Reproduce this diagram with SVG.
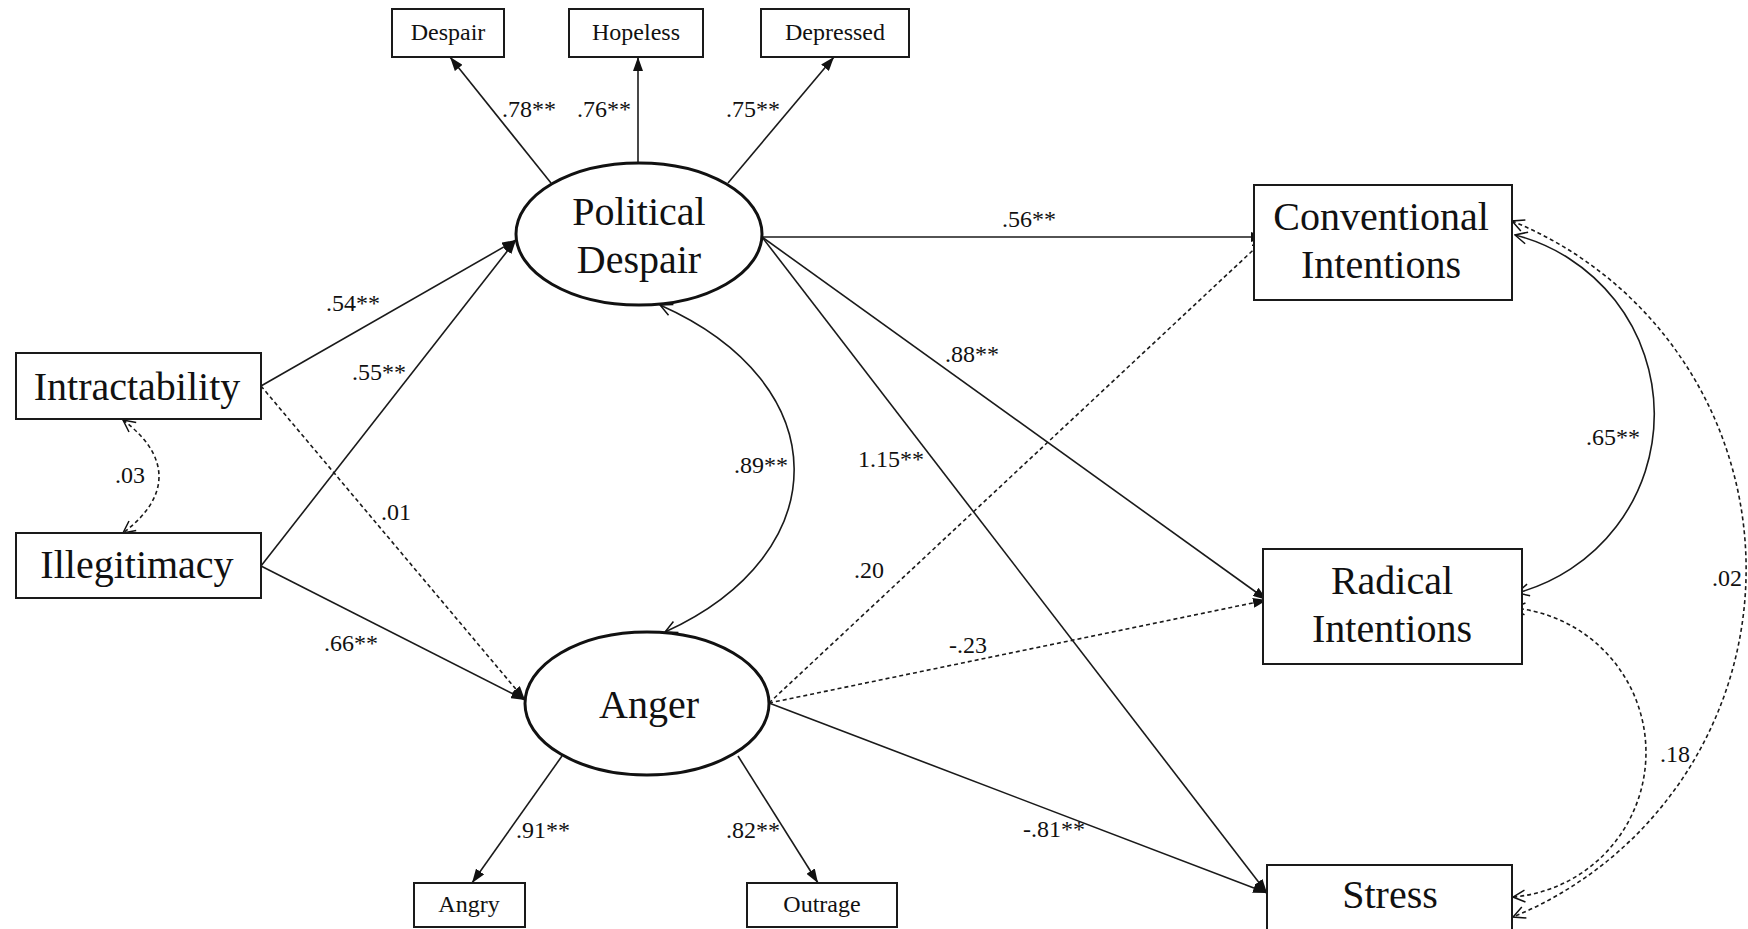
<svg xmlns="http://www.w3.org/2000/svg" width="1748" height="929" viewBox="0 0 1748 929">
  <style>
    .box { fill: #fff; stroke: #1a1a1a; stroke-width: 2; }
    .latent { fill: #fff; stroke: #111; stroke-width: 3; }
    .big { font-family: "Liberation Serif", "Times New Roman", serif; font-size: 40px; fill: #111; text-anchor: middle; }
    .small { font-family: "Liberation Serif", "Times New Roman", serif; font-size: 24px; fill: #111; text-anchor: middle; }
    .coef { font-family: "Liberation Serif", "Times New Roman", serif; font-size: 24px; fill: #111; }
    .path { fill: none; stroke: #1a1a1a; stroke-width: 1.6; }
    .dash { stroke-dasharray: 4 3; }
  </style>
  <defs>
    <marker id="arrow" viewBox="0 0 14 10" refX="14" refY="5" markerWidth="14" markerHeight="10" markerUnits="userSpaceOnUse" orient="auto">
      <path d="M0,0 L14,5 L0,10 z" fill="#111"/>
    </marker>
    <marker id="open" viewBox="0 0 14 14" refX="13" refY="7" markerWidth="14" markerHeight="14" markerUnits="userSpaceOnUse" orient="auto-start-reverse">
      <path d="M1,1 L13,7 L1,13" fill="none" stroke="#111" stroke-width="1.5"/>
    </marker>
  </defs>

  <rect width="1748" height="929" fill="#fff"/>

  <!-- paths, loadings and correlations -->
  <g id="connectors">
    <!-- indicators of Political Despair -->
    <path class="path" d="M551,183 L450,57" marker-end="url(#arrow)"/>
    <path class="path" d="M638,163 L638,57" marker-end="url(#arrow)"/>
    <path class="path" d="M728,183 L834,57" marker-end="url(#arrow)"/>
    <!-- indicators of Anger -->
    <path class="path" d="M562,756 L472,883" marker-end="url(#arrow)"/>
    <path class="path" d="M738,756 L818,883" marker-end="url(#arrow)"/>
    <!-- predictors -->
    <path class="path" d="M261,386 L516,240" marker-end="url(#arrow)"/>
    <path class="path" d="M261,566 L516,240" marker-end="url(#arrow)"/>
    <path class="path" d="M261,566 L525,700" marker-end="url(#arrow)"/>
    <path class="path dash" d="M261,386 L525,700" marker-end="url(#arrow)"/>
    <!-- outcomes from Political Despair -->
    <path class="path" d="M762,237 L1265,237" marker-end="url(#arrow)"/>
    <path class="path" d="M762,237 L1267,600" marker-end="url(#arrow)"/>
    <path class="path" d="M762,237 L1267,893" marker-end="url(#arrow)"/>
    <!-- outcomes from Anger -->
    <path class="path dash" d="M769,703 L1265,239" marker-end="url(#arrow)"/>
    <path class="path dash" d="M769,703 L1267,600" marker-end="url(#arrow)"/>
    <path class="path" d="M769,703 L1267,893" marker-end="url(#arrow)"/>
    <!-- correlations -->
    <path class="path dash" d="M123,420 C171,456 171,497 123,533" marker-start="url(#open)" marker-end="url(#open)"/>
    <path class="path" d="M660,305 C838,384 838,553 665,632" marker-start="url(#open)" marker-end="url(#open)"/>
    <path class="path" d="M1515,235 A185,185 0 0 1 1517,593" marker-start="url(#open)" marker-end="url(#open)"/>
    <path class="path dash" d="M1513,608 A145,145 0 0 1 1513,897" marker-start="url(#open)" marker-end="url(#open)"/>
    <path class="path dash" d="M1512,221 A376,376 0 0 1 1513,917" marker-start="url(#open)" marker-end="url(#open)"/>
  </g>

  <!-- coefficients -->
  <g id="coefficients">
    <text class="coef" x="502" y="117">.78**</text>
    <text class="coef" x="577" y="117">.76**</text>
    <text class="coef" x="726" y="117">.75**</text>
    <text class="coef" x="326" y="311">.54**</text>
    <text class="coef" x="352" y="380">.55**</text>
    <text class="coef" x="381" y="520">.01</text>
    <text class="coef" x="324" y="651">.66**</text>
    <text class="coef" x="115" y="483">.03</text>
    <text class="coef" x="1002" y="227">.56**</text>
    <text class="coef" x="945" y="362">.88**</text>
    <text class="coef" x="858" y="467">1.15**</text>
    <text class="coef" x="734" y="473">.89**</text>
    <text class="coef" x="854" y="578">.20</text>
    <text class="coef" x="949" y="653">-.23</text>
    <text class="coef" x="1023" y="837">-.81**</text>
    <text class="coef" x="516" y="838">.91**</text>
    <text class="coef" x="726" y="838">.82**</text>
    <text class="coef" x="1586" y="445">.65**</text>
    <text class="coef" x="1660" y="762">.18</text>
    <text class="coef" x="1712" y="586">.02</text>
  </g>

  <g id="despair-item">
    <rect class="box" x="392" y="9" width="112" height="48"/>
    <text class="small" x="448" y="40">Despair</text>
  </g>
  <g id="hopeless-item">
    <rect class="box" x="569" y="9" width="134" height="48"/>
    <text class="small" x="636" y="40">Hopeless</text>
  </g>
  <g id="depressed-item">
    <rect class="box" x="761" y="9" width="148" height="48"/>
    <text class="small" x="835" y="40">Depressed</text>
  </g>

  <g id="political-despair">
    <ellipse class="latent" cx="639" cy="234" rx="123" ry="71"/>
    <text class="big" x="639" y="225">Political</text>
    <text class="big" x="639" y="273">Despair</text>
  </g>

  <g id="anger">
    <ellipse class="latent" cx="647" cy="703.5" rx="122" ry="71.5"/>
    <text class="big" x="649" y="718">Anger</text>
  </g>

  <g id="angry-item">
    <rect class="box" x="414" y="883" width="111" height="44"/>
    <text class="small" x="469" y="912">Angry</text>
  </g>
  <g id="outrage-item">
    <rect class="box" x="747" y="883" width="150" height="44"/>
    <text class="small" x="822" y="912">Outrage</text>
  </g>

  <g id="intractability">
    <rect class="box" x="16" y="353" width="245" height="66"/>
    <text class="big" x="137" y="400">Intractability</text>
  </g>
  <g id="illegitimacy">
    <rect class="box" x="16" y="533" width="245" height="65"/>
    <text class="big" x="137" y="578">Illegitimacy</text>
  </g>

  <g id="conventional-intentions">
    <rect class="box" x="1254" y="185" width="258" height="115"/>
    <text class="big" x="1381" y="230">Conventional</text>
    <text class="big" x="1381" y="278">Intentions</text>
  </g>
  <g id="radical-intentions">
    <rect class="box" x="1263" y="549" width="259" height="115"/>
    <text class="big" x="1392" y="594">Radical</text>
    <text class="big" x="1392" y="642">Intentions</text>
  </g>
  <g id="stress">
    <rect class="box" x="1267" y="865" width="245" height="80"/>
    <text class="big" x="1390" y="908">Stress</text>
  </g>
</svg>
